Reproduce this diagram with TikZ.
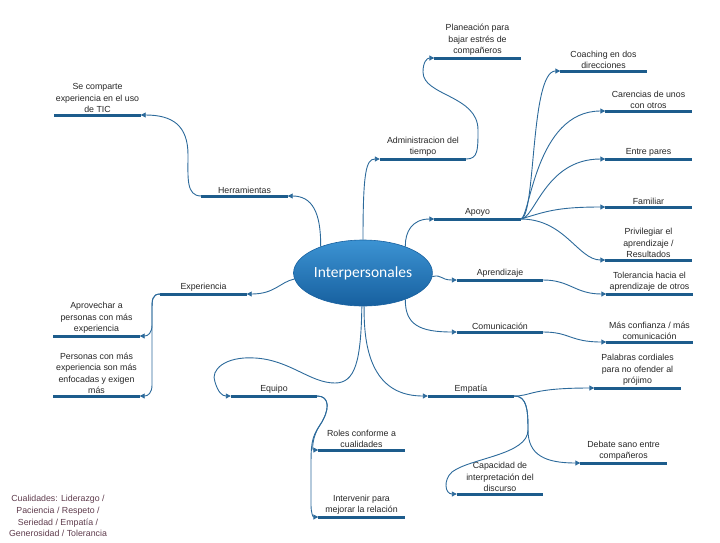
\documentclass[tikz,border=0pt]{standalone}
\usepackage{fontspec}
\setmainfont{Liberation Sans}
\newfontfamily\hubfont{Carlito}
\usepackage{tikz}
\usetikzlibrary{arrows.meta,calc,positioning,shapes.geometric}
\definecolor{barblue}{HTML}{1D5C8C}
\definecolor{linkblue}{HTML}{2C6A9B}
\definecolor{hubtop}{HTML}{3C93D3}
\definecolor{hubbot}{HTML}{17609F}
\definecolor{notecol}{HTML}{5E3B4C}
\tikzset{%
	hub/.style   = {ellipse, draw=hubbot, line width=0.6pt, top color=hubtop, bottom color=hubbot, minimum width=134pt, minimum height=66pt, inner sep=0pt, text=white, font=\hubfont\fontsize{15.5}{17}\selectfont},
	topic/.style = {anchor=south, minimum width=86pt, align=center, inner xsep=0pt, inner ysep=2pt, text=black!85, font=\fontsize{8.8}{11.5}\selectfont},
	bar/.style   = {barblue, line width=3pt},
	link/.style  = {linkblue, line width=0.9pt, -{Triangle[length=5pt,width=5pt]}},
	note/.style  = {align=center, text=notecol, font=\fontsize{8.8}{11.8}\selectfont},
}
\begin{document}
\begin{tikzpicture}[x=1pt,y=-1pt]
	\useasboundingbox (0,0) rectangle (720,542);
	\node[hub] (hub) at (363,273) {Interpersonales};
	% upper left
	\node[topic] (tic)    at (97.5,115)  {Se comparte\\experiencia en el uso\\de TIC};
	\node[topic] (herr)   at (244.5,196) {Herramientas};
	% upper right
	\node[topic] (plan)   at (477.5,58)  {Planeación para\\bajar estrés de\\compañeros};
	\node[topic] (admin)  at (423,159)   {Administracion del\\tiempo};
	\node[topic] (apoyo)  at (477.5,219) {Apoyo};
	\node[topic] (coach)  at (603.5,71)  {Coaching en dos\\direcciones};
	\node[topic] (caren)  at (648.5,111) {Carencias de unos\\con otros};
	\node[topic] (pares)  at (648.5,159) {Entre pares};
	\node[topic] (famil)  at (648.5,207) {Familiar};
	\node[topic] (privi)  at (648.5,260) {Privilegiar el\\aprendizaje /\\Resultados};
	% right
	\node[topic] (aprend) at (500,280)   {Aprendizaje};
	\node[topic] (toler)  at (649.5,294) {Tolerancia hacia el\\aprendizaje de otros};
	\node[topic] (comun)  at (500,332)   {Comunicación};
	\node[topic] (confi)  at (649.5,342) {Más confianza / más\\comunicación};
	% lower right
	\node[topic] (empat)  at (471,396)   {Empatía};
	\node[topic] (palab)  at (637.5,388) {Palabras cordiales\\para no ofender al\\prójimo};
	\node[topic] (debate) at (623.5,463) {Debate sano entre\\compañeros};
	\node[topic] (capac)  at (500,494)   {Capacidad de\\interpretación del\\discurso};
	% lower left
	\node[topic] (equipo) at (274,396)   {Equipo};
	\node[topic] (roles)  at (361.5,450) {Roles conforme a\\cualidades};
	\node[topic] (inter)  at (361.5,517) {Intervenir para\\mejorar la relación};
	\node[topic] (exper)  at (203.5,294) {Experiencia};
	\node[topic] (aprov)  at (96.5,336)  {Aprovechar a\\personas con más\\experiencia};
	\node[topic] (perso)  at (96.5,396)  {Personas con más\\experiencia son más\\enfocadas y exigen\\más};
	\node[note]  (cual)   at (58,516)    {Cualidades: Liderazgo /\\Paciencia / Respeto /\\Seriedad / Empatía /\\Generosidad / Tolerancia};
	\foreach \n in {tic,herr,plan,admin,apoyo,coach,caren,pares,famil,privi,aprend,toler,comun,confi,empat,palab,debate,capac,equipo,roles,inter,exper,aprov,perso}
		\draw[bar] (\n.south west) -- (\n.south east);
	% branches from the hub
	\draw[link] (hub.148) .. controls (321,212) and (312,196) .. (herr.south east);
	\draw[link] (herr.south west) .. controls (186,196) and (188,178) .. (188,155) .. controls (188,125) and (172,115) .. (tic.south east);
	\draw[link] (hub.north) .. controls (363,172) and (366,159) .. (admin.south west);
	\draw[link] (admin.south east) .. controls (478,159) and (478,150) .. (478,130) .. controls (478,95) and (423,96) .. (423,72) .. controls (423,62) and (427,58) .. (plan.south west);
	\draw[link] (hub.32) .. controls (405,232) and (412,219) .. (apoyo.south west);
	\draw[link] (apoyo.south east) .. controls (536,219) and (530,71) .. (coach.south west);
	\draw[link] (apoyo.south east) .. controls (530,219) and (535,111) .. (caren.south west);
	\draw[link] (apoyo.south east) .. controls (535,219) and (545,159) .. (pares.south west);
	\draw[link] (apoyo.south east) .. controls (545,212) and (555,207) .. (famil.south west);
	\draw[link] (apoyo.south east) .. controls (565,219) and (578,260) .. (privi.south west);
	\draw[link] (hub.-3) .. controls (442,274) and (440,280) .. (aprend.south west);
	\draw[link] (aprend.south east) .. controls (570,280) and (575,294) .. (toler.south west);
	\draw[link] (hub.-32) .. controls (405,325) and (420,332) .. (comun.south west);
	\draw[link] (comun.south east) .. controls (570,332) and (570,342) .. (confi.south west);
	\draw[link] (hub.-88) .. controls (363,370) and (385,396) .. (empat.south west);
	\draw[link] (empat.south east) .. controls (532,396) and (530,388) .. (palab.south west);
	\draw[link] (empat.south east) .. controls (527,396) and (528,410) .. (528,430) .. controls (528,455) and (545,463) .. (debate.south west);
	\draw[link] (empat.south east) .. controls (527,396) and (528,410) .. (528,430) .. controls (528,455) and (470,458) .. (452,472) .. controls (443,480) and (445,494) .. (capac.south west);
	\draw[link] (hub.-92) .. controls (361,362) and (355,383) .. (335,383) .. controls (310,383) and (290,360) .. (255,358) .. controls (225,356) and (210,370) .. (215,382) .. controls (218,392) and (222,396) .. (equipo.south west);
	\draw[link] (equipo.south east) .. controls (330,396) and (330,410) .. (320,425) .. controls (312,437) and (312,450) .. (roles.south west);
	\draw[link] (equipo.south east) .. controls (330,396) and (330,410) .. (320,425) .. controls (311,438) and (311,445) .. (311,470) -- (311,505) .. controls (311,513) and (313,517) .. (inter.south west);
	\draw[link] (hub.185) .. controls (280,282) and (275,294) .. (exper.south east);
	\draw[link] (exper.south west) .. controls (152,294) and (152,300) .. (152,310) -- (152,325) .. controls (152,333) and (148,336) .. (aprov.south east);
	\draw[link] (exper.south west) .. controls (152,294) and (152,300) .. (152,310) -- (152,385) .. controls (152,393) and (148,396) .. (perso.south east);
\end{tikzpicture}
\end{document}
